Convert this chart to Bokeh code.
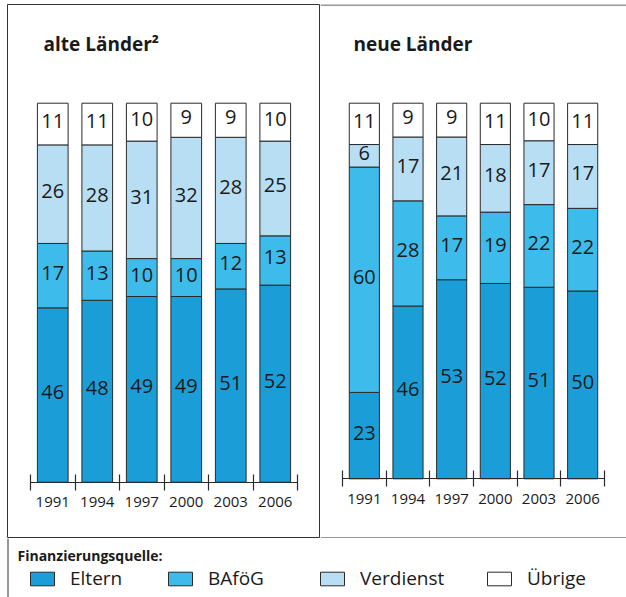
from bokeh.plotting import figure
from bokeh.layouts import column, row
from bokeh.models import (ColumnDataSource, Range1d, LinearAxis, FixedTicker, LabelSet,
                          Label, Span, Legend, LegendItem)
from bokeh.core.properties import value
from bokeh.embed import file_html
from bokeh.resources import INLINE

# ---------------- data ----------------
years = [1991, 1994, 1997, 2000, 2003, 2006]
series_keys = ["eltern", "bafoeg", "verdienst", "uebrige"]
series_names = ["Eltern", "BAföG", "Verdienst", "Übrige"]

alte_eltern = [46, 48, 49, 49, 51, 52]
alte_bafoeg = [17, 13, 10, 10, 12, 13]
alte_verdienst = [26, 28, 31, 32, 28, 25]
alte_uebrige = [11, 11, 10, 9, 9, 10]

neue_eltern = [23, 46, 53, 52, 51, 50]
neue_bafoeg = [60, 28, 17, 19, 22, 22]
neue_verdienst = [6, 17, 21, 18, 17, 17]
neue_uebrige = [11, 9, 9, 11, 10, 11]

title_alte = "alte Länder²"
title_neue = "neue Länder"
legend_title = "Finanzierungsquelle:"

# ---------------- styles ----------------
colors = ["#1b9ed8", "#3dbcec", "#b8def4", "#ffffff"]
EDGE = "#2b2b2b"
BOX = "#333333"
TEXT = "#1a1a1a"
FONT = "Open Sans"
STEP = 3
BAR_FRAC = 0.69
PANEL_H = 538
TOP_PAD = 4


def make_panel(title, vals, width, left_pad, ax0, ax1, y0, y100, title_x, title_y, outline):
    fw = width - left_pad
    fh = PANEL_H - TOP_PAD
    ppy = (ax1 - ax0) / (len(years) * STEP)
    first = years[0] - STEP / 2
    last = years[-1] + STEP / 2
    xs = first - ax0 / ppy
    xe = last + (fw - ax1) / ppy
    ppv = (y0 - y100) / 100.0

    def yv(py):
        return (y0 - py) / ppv

    def xv(px):
        return xs + px / ppy

    p = figure(width=width, height=PANEL_H, x_range=Range1d(xs, xe),
               y_range=Range1d(yv(fh), yv(0)),
               output_backend="svg", toolbar_location=None,
               x_axis_location=None, y_axis_location=None,
               min_border_left=left_pad, min_border_top=TOP_PAD,
               min_border_right=0, min_border_bottom=0)
    p.grid.visible = False
    if outline:
        p.outline_line_color = BOX
        p.outline_line_width = 1
    else:
        p.outline_line_color = None
        p.add_layout(Span(location=yv(0.5), dimension="width", line_color=BOX, line_width=1))
        p.add_layout(Span(location=yv(fh - 0.5), dimension="width", line_color=BOX, line_width=1))

    data = dict(year=years)
    for k, v in zip(series_keys, vals):
        data[k] = v
    src = ColumnDataSource(data)
    p.vbar_stack(series_keys, x="year", width=BAR_FRAC * STEP, source=src,
                 fill_color=colors, line_color=EDGE, line_width=1)

    lx, ly, lt = [], [], []
    for i, yr in enumerate(years):
        base = 0
        for v in vals:
            lx.append(yr)
            ly.append(base + v[i] / 2.0)
            lt.append(str(v[i]))
            base += v[i]
    lsrc = ColumnDataSource(dict(x=lx, y=ly, text=lt))
    p.add_layout(LabelSet(x="x", y="y", text="text", source=lsrc,
                          text_align="center", text_baseline="middle", y_offset=3,
                          text_font=value(FONT), text_font_size="20px",
                          text_color=TEXT))

    ax = LinearAxis(fixed_location=0, bounds=(first, last),
                    ticker=FixedTicker(ticks=years,
                                       minor_ticks=[first + STEP * i for i in range(len(years) + 1)]),
                    major_tick_in=0, major_tick_out=0, major_tick_line_color=None,
                    minor_tick_in=8, minor_tick_out=8, minor_tick_line_color=EDGE,
                    minor_tick_line_width=1.2,
                    axis_line_color=EDGE, axis_line_width=1.2,
                    major_label_standoff=7,
                    major_label_text_font=FONT, major_label_text_font_size="15px",
                    major_label_text_color=TEXT)
    p.add_layout(ax, "below")

    p.add_layout(Label(x=xv(title_x), y=yv(title_y), text=title,
                       text_font=FONT, text_font_style="bold", text_font_size="19px",
                       text_baseline="alphabetic", text_color=TEXT))
    return p, src


left, src_alte = make_panel(title_alte, [alte_eltern, alte_bafoeg, alte_verdienst, alte_uebrige],
                            320, 7, 23, 290, 477.7, 98.7, 36, 39, True)
right, src_neue = make_panel(title_neue, [neue_eltern, neue_bafoeg, neue_verdienst, neue_uebrige],
                             306, 0, 22, 284, 474.3, 98.7, 33, 39, False)

# ---------------- legend strip ----------------
LW, LH = 626, 59
lf = figure(width=LW, height=LH, x_range=Range1d(0, LW), y_range=Range1d(0, LH),
            output_backend="svg", toolbar_location=None,
            x_axis_location=None, y_axis_location=None, min_border=0)
lf.grid.visible = False
lf.outline_line_color = None
lf.add_layout(Span(location=7.5, dimension="height", line_color=BOX, line_width=1))
lf.add_layout(Label(x=17, y=LH - 17, text=legend_title, text_font=FONT,
                    text_font_style="bold", text_font_size="14px",
                    text_baseline="middle", text_color=TEXT))
legend_x = [27, 165, 317, 484]
for key, name, c, lx in zip(series_keys, series_names, colors, legend_x):
    # same data as the panels; it lies outside this strip's x range, only the swatch shows
    r = lf.vbar(x="year", top=key, width=1, source=src_alte,
                fill_color=c, line_color=EDGE, line_width=1)
    lg = Legend(items=[LegendItem(label=name, renderers=[r])], location=(lx, 6),
                orientation="horizontal", glyph_width=30, glyph_height=17,
                label_height=17, label_standoff=13, padding=0, margin=0, spacing=0,
                border_line_color=None, background_fill_alpha=0,
                label_text_font=FONT, label_text_font_size="19px",
                label_text_color=TEXT)
    lf.add_layout(lg)

layout = column(row(left, right), lf)
open("out.html", "w").write(file_html(layout, INLINE))
